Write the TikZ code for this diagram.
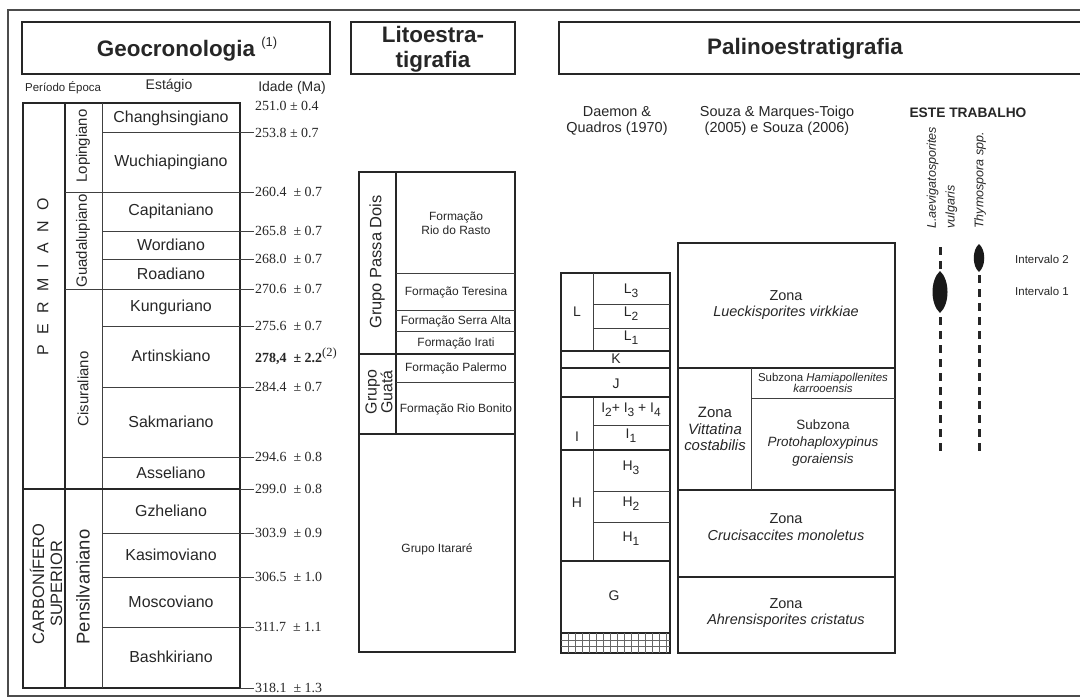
\documentclass[tikz,border=0pt]{standalone}
\usepackage{fontspec}
\setmainfont{Liberation Sans}
\newfontfamily\serifage{Liberation Serif}
\usetikzlibrary{calc,positioning}
\newcommand\baixo[1]{\raisebox{-0.3em}{\fontsize{12}{12}\selectfont #1}}
\newcommand\esp{\hspace{0.65em}}

\begin{document}
\begin{tikzpicture}[x=1bp,y=-1bp,
	every node/.style={inner sep=0pt, text=black!85},
	borda/.style={line width=1.8bp, draw=black!85},
	linha/.style={line width=1bp, draw=black!75},
	moldura/.style={line width=1.2bp, draw=black!70},
	titulo/.style={font=\bfseries\fontsize{22.5}{25}\selectfont, align=center},
	cabeca/.style={font=\fontsize{14.5}{16}\selectfont, align=center},
	estagio/.style={font=\fontsize{16}{18}\selectfont},
	idade/.style={anchor=west, font=\serifage\fontsize{14}{16}\selectfont},
	epoca/.style={rotate=90, font=\fontsize{15}{17}\selectfont},
	formacao/.style={font=\fontsize{12}{14}\selectfont, align=center},
	grupo/.style={rotate=90, font=\fontsize{16.5}{18}\selectfont, align=center},
	letra/.style={font=\fontsize{14}{16}\selectfont},
	zona/.style={font=\fontsize{14.5}{17}\selectfont, align=center},
	especie/.style={rotate=90, anchor=west, align=left, font=\itshape\fontsize{12.6}{19}\selectfont},
	intervalo/.style={anchor=west, font=\fontsize{11.5}{13}\selectfont},
	ocorrencia/.style={line width=3bp, dash pattern=on 8bp off 6bp, draw=black!85}]

	\useasboundingbox (0,0) rectangle (1080,698);
	\clip (0,0) rectangle (1080,698);
	\draw[moldura] (8,10) rectangle (1095,696);

	% cabecalhos
	\draw[borda] (22,22) rectangle (330,74);
	\draw[borda] (351,22) rectangle (515,74);
	\draw[borda] (559,22) rectangle (1095,74);
	\node (geo) at (176,49) [titulo] {Geocronologia\rlap{~\raisebox{0.45em}{\mdseries\fontsize{13}{13}\selectfont(1)}}};
	\node (lito) at (433,49) [titulo] {Litoestra-\\tigrafia};
	\node (palino) at (805,49) [titulo] {Palinoestratigrafia};

	\node (periodo) at (25,88) [anchor=west, font=\fontsize{11.5}{13}\selectfont] {Período Época};
	\node (estagio) at (169,86) [font=\fontsize{14}{16}\selectfont] {Estágio};
	\node (idade) at (292,88) [font=\fontsize{14}{16}\selectfont] {Idade (Ma)};

	% geocronologia
	\draw[borda] (23,103) rectangle (240,688);
	\draw[borda] (65,103) -- (65,688);
	\draw[linha] (102,103) -- (102,688);
	\foreach \y in {133,231,259,326,387,457,533,577,627}
		\draw[linha] (102,\y) -- (240,\y);
	\foreach \y in {192,289}
		\draw[linha] (65,\y) -- (240,\y);
	\draw[borda] (23,489) -- (240,489);
	\foreach \y in {133,192,231,259,289,326,387,457,489,533,577,627,688}
		\draw[linha] (240,\y) -- (254,\y);

	\foreach \y/\nome [count=\i] in {118/Changhsingiano, 162/Wuchiapingiano, 211/Capitaniano,
		245/Wordiano, 274/Roadiano, 307/Kunguriano, 356/Artinskiano, 422/Sakmariano,
		473/Asseliano, 511/Gzheliano, 555/Kasimoviano, 602/Moscoviano, 657/Bashkiriano}
		\node (est\i) at (171,\y) [estagio] {\nome};

	\node (age0) at (255,106) [idade] {251.0 ± 0.4};
	\foreach \y/\valor in {133/253.8 ± 0.7, 192/260.4\ \ ± 0.7, 231/265.8\ \ ± 0.7,
		259/268.0\ \ ± 0.7, 289/270.6\ \ ± 0.7, 326/275.6\ \ ± 0.7, 387/284.4\ \ ± 0.7,
		457/294.6\ \ ± 0.8, 489/299.0\ \ ± 0.8, 533/303.9\ \ ± 0.9, 577/306.5\ \ ± 1.0,
		627/311.7\ \ ± 1.1, 688/318.1\ \ ± 1.3}
		\node (age\y) at (255,\y) [idade] {\valor};
	\node (ageart) at (255,356) [idade] {\textbf{278,4\ \ ± 2.2}\raisebox{0.45em}{\fontsize{12.5}{13}\selectfont(2)}};

	\node (lop) at (83,146) [epoca] {Lopingiano};
	\node (gua) at (83,241) [epoca] {Guadalupiano};
	\node (cis) at (83,389) [epoca] {Cisuraliano};
	\node (pen) at (83,587) [epoca, font=\fontsize{18.5}{20}\selectfont] {Pensilvaniano};
	\node (perm) at (43,277) [rotate=90, font=\fontsize{16}{18}\selectfont]
		{P\esp E\esp R\esp M\esp I\esp A\esp N\esp O};
	\node (carb) at (46,584) [grupo] {CARBONÍFERO\\SUPERIOR};

	% litoestratigrafia
	\draw[borda] (359,172) rectangle (515,652);
	\draw[borda] (396,172) -- (396,434);
	\foreach \y in {273,310,331,382}
		\draw[linha] (396,\y) -- (515,\y);
	\draw[borda] (359,354) -- (515,354);
	\draw[borda] (359,434) -- (515,434);
	\node (rasto) at (456,223) [formacao] {Formação\\Rio do Rasto};
	\node (teresina) at (456,292) [formacao] {Formação Teresina};
	\node (serra) at (456,321) [formacao] {Formação Serra Alta};
	\node (irati) at (456,343) [formacao] {Formação Irati};
	\node (palermo) at (456,368) [formacao] {Formação Palermo};
	\node (bonito) at (456,409) [formacao] {Formação Rio Bonito};
	\node (itarare) at (437,549) [formacao] {Grupo Itararé};
	\node (passa) at (377,262) [grupo] {Grupo Passa Dois};
	\node (guata) at (379,392) [grupo, font=\fontsize{16}{16}\selectfont] {Grupo\\Guatá};

	% palinoestratigrafia
	\node (daemon) at (617,121) [cabeca] {Daemon \&\\Quadros (1970)};
	\node (souza) at (777,121) [cabeca] {Souza \& Marques-Toigo\\(2005) e Souza (2006)};
	\node (este) at (968,113) [font=\bfseries\fontsize{13.8}{15}\selectfont] {ESTE TRABALHO};

	\draw[borda] (561,273) rectangle (670,653);
	\draw[linha] (593,273) -- (593,351);
	\draw[linha] (593,397) -- (593,561);
	\foreach \y in {304,328,425,491,522}
		\draw[linha] (593,\y) -- (670,\y);
	\foreach \y in {351,368,397,450,561,633}
		\draw[borda] (561,\y) -- (670,\y);
	\foreach \x in {568,575,...,666}
		\draw[line width=0.6bp, black!60] (\x,633) -- (\x,653);
	\foreach \y in {640,646.5}
		\draw[line width=0.6bp, black!60] (561,\y) -- (670,\y);

	\node (L) at (577,312) [letra] {L};
	\node (L3) at (631,291) [letra] {L\baixo{3}};
	\node (L2) at (631,314) [letra] {L\baixo{2}};
	\node (L1) at (631,338) [letra] {L\baixo{1}};
	\node (K) at (616,359) [letra] {K};
	\node (J) at (616,384) [letra] {J};
	\node (I) at (577,437) [letra] {I};
	\node (I234) at (631,410) [letra] {I\baixo{2}+ I\baixo{3} + I\baixo{4}};
	\node (I1) at (631,436) [letra] {I\baixo{1}};
	\node (H) at (577,503) [letra] {H};
	\node (H3) at (631,468) [letra] {H\baixo{3}};
	\node (H2) at (631,504) [letra] {H\baixo{2}};
	\node (H1) at (631,539) [letra] {H\baixo{1}};
	\node (G) at (614,596) [letra] {G};

	\draw[borda] (678,243) rectangle (895,653);
	\foreach \y in {368,490,577}
		\draw[borda] (678,\y) -- (895,\y);
	\draw[linha] (751,368) -- (751,490);
	\draw[linha] (751,398) -- (895,398);
	\node (lueck) at (786,305) [zona] {Zona\\\textit{Lueckisporites virkkiae}};
	\node (vitt) at (715,429) [zona, font=\fontsize{15}{16.5}\selectfont] {Zona\\\textit{Vittatina}\\\textit{costabilis}};
	\node (hamia) at (823,383) [zona, font=\fontsize{11.5}{11.5}\selectfont] {Subzona \textit{Hamiapollenites}\\\textit{karrooensis}};
	\node (proto) at (823,443) [zona, font=\fontsize{13.5}{17}\selectfont] {Subzona\\\textit{Protohaploxypinus}\\\textit{goraiensis}};
	\node (cruci) at (786,527) [zona] {Zona\\\textit{Crucisaccites monoletus}};
	\node (ahren) at (786,613) [zona] {Zona\\\textit{Ahrensisporites cristatus}};

	% este trabalho
	\node (laev) at (942,229) [especie] {L.aevigatosporites\\vulgaris};
	\node (thym) at (980,229) [especie] {Thymospora spp.};
	\coordinate (laev top) at (940,247);
	\coordinate (laev bot) at (940,456);
	\coordinate (thym top) at (979,247);
	\coordinate (thym bot) at (979,456);
	\draw[ocorrencia] (laev top) -- (laev bot);
	\draw[ocorrencia] (thym top) -- (thym bot);
	\fill[black!90] (940,271) .. controls (950,280) and (950,304) .. (940,313)
		.. controls (930,304) and (930,280) .. (940,271);
	\fill[black!90] (979,244) .. controls (986,250) and (986,266) .. (979,272)
		.. controls (972,266) and (972,250) .. (979,244);
	\node (int2) at (1015,259) [intervalo] {Intervalo 2};
	\node (int1) at (1015,291) [intervalo] {Intervalo 1};

\end{tikzpicture}
\end{document}
